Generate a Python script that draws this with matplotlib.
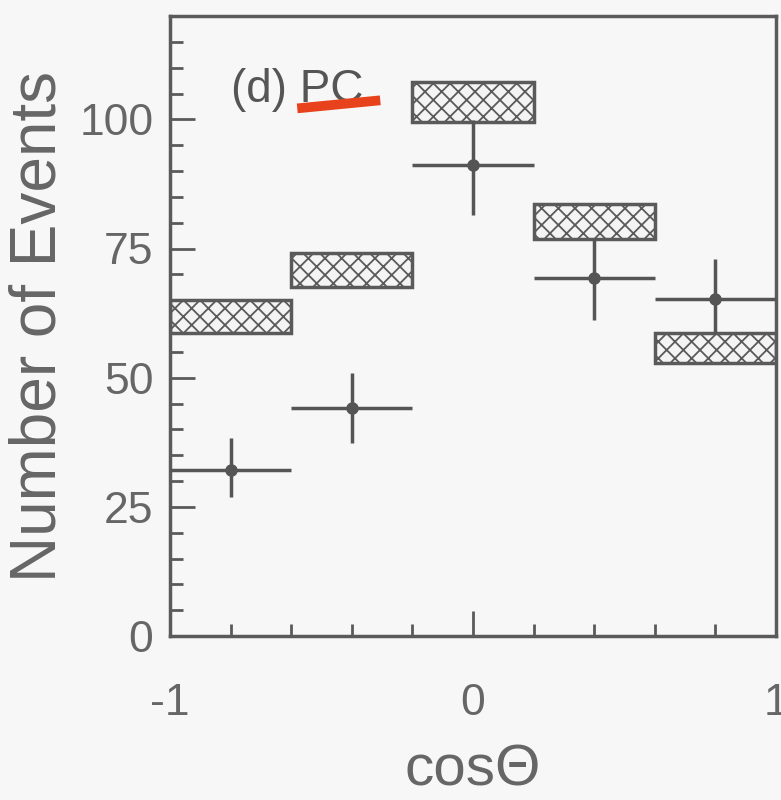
import matplotlib
matplotlib.use("Agg")
import matplotlib.pyplot as plt
from matplotlib.patches import Rectangle
from matplotlib.ticker import MultipleLocator
import numpy as np

# data
bin_lo = [-1.0, -0.6, -0.2, 0.2, 0.6]
bin_hi = [-0.6, -0.2, 0.2, 0.6, 1.0]
data_x = [-0.8, -0.4, 0.0, 0.4, 0.8]
data_y = [32.1, 44.1, 91.1, 69.2, 65.2]
err_lo = [5.2, 6.7, 9.7, 8.1, 6.6]
err_hi = [6.2, 6.8, 8.7, 7.6, 7.7]
mc_lo = [58.6, 67.5, 99.4, 76.8, 52.8]
mc_hi = [65.0, 74.1, 107.2, 83.6, 58.6]
label_text = "(d) PC"
xlabel = "cos\u0398"
ylabel = "Number of Events"

plt.rcParams['font.family'] = ['Liberation Sans', 'DejaVu Sans']
plt.rcParams['hatch.color'] = '#8a8a8a'
plt.rcParams['hatch.linewidth'] = 1.3

gray = '#5a5a5a'
fig = plt.figure(figsize=(7.81, 8.0), dpi=100, facecolor='#f7f7f7')
ax = fig.add_axes([170/781, 164/800, 606/781, 620/800])
ax.set_facecolor('#f7f7f7')

for lo, hi, a, b in zip(bin_lo, bin_hi, mc_lo, mc_hi):
    ax.add_patch(Rectangle((lo, a), hi - lo, b - a, facecolor='#f4f4f4',
                           edgecolor=gray, linewidth=2.5, hatch='xx', zorder=2))

xerr = [np.array(data_x) - np.array(bin_lo), np.array(bin_hi) - np.array(data_x)]
ax.errorbar(data_x, data_y, yerr=[err_lo, err_hi], xerr=xerr, fmt='o',
            color='#555555', ms=8, elinewidth=2.5, capsize=0, zorder=3)

ax.set_xlim(-1, 1)
ax.set_ylim(0, 120)
ax.xaxis.set_major_locator(MultipleLocator(1))
ax.xaxis.set_minor_locator(MultipleLocator(0.2))
ax.yaxis.set_major_locator(MultipleLocator(25))
ax.yaxis.set_minor_locator(MultipleLocator(5))
ax.tick_params(which='both', direction='in', colors=gray, labelcolor='#666666',
               labelsize=32, width=2, top=False, right=False)
ax.tick_params(which='major', length=18)
ax.tick_params(which='minor', length=9)
ax.tick_params(axis='x', which='major', pad=34)
ax.tick_params(axis='y', which='major', pad=12)
ax.set_xticks([-1, 0, 1])
ax.set_xticklabels(['-1', '0', '1'])

for s in ax.spines.values():
    s.set_color(gray)
    s.set_linewidth(2.5)

ax.set_xlabel(xlabel, fontsize=42, color='#666666', labelpad=14)
ax.set_ylabel(ylabel, fontsize=46, color='#666666', labelpad=8)

ax.text(0.10, 0.88, label_text, transform=ax.transAxes, fontsize=33,
        color='#555555', va='center', ha='left', zorder=4)
ax.plot([0.21, 0.347], [0.851, 0.864], transform=ax.transAxes, color='#e8421c',
        lw=7, solid_capstyle='butt', zorder=5)

fig.savefig('out.png', dpi=100, facecolor=fig.get_facecolor())
